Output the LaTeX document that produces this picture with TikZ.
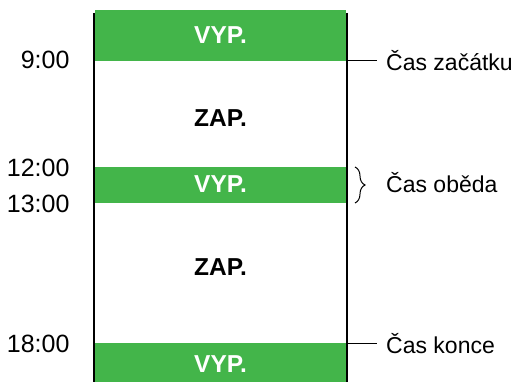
\documentclass[tikz,border=0pt]{standalone}
\usepackage{fontspec}
\setmainfont{Liberation Sans}
\usetikzlibrary{decorations.pathreplacing}
\definecolor{barGreen}{RGB}{67,181,74}
\begin{document}
\begin{tikzpicture}[x=1pt,y=-1pt,
        lbl/.style={font=\fontsize{25}{29}\selectfont},
        rlbl/.style={font=\fontsize{23}{27}\selectfont},
        offtext/.style={font=\fontsize{24.5}{28}\selectfont\bfseries,text=white},
        ontext/.style={font=\fontsize{24.5}{28}\selectfont\bfseries}]
        \useasboundingbox (0,0) rectangle (518,382);

        % green off bars
        \fill[barGreen] (95,10) rectangle (346,61);
        \fill[barGreen] (95,167) rectangle (346,203);
        \fill[barGreen] (95,343) rectangle (346,382);

        \node[offtext] (off1) at (220.5,35) {VYP.};
        \node[ontext] (on1) at (220.5,118) {ZAP.};
        \node[offtext] (off2) at (220.5,184) {VYP.};
        \node[ontext] (on2) at (220.5,267) {ZAP.};
        \node[offtext] (off3) at (220.5,364.5) {VYP.};

        % side lines
        \coordinate (LT) at (94,13);
        \coordinate (LB) at (94,382);
        \coordinate (RT) at (347,13);
        \coordinate (RB) at (347,382);
        \draw[line width=2pt] (LT) -- (LB);
        \draw[line width=2pt] (RT) -- (RB);

        % times
        \node[lbl,anchor=east] (h9) at (73,60) {9:00};
        \node[lbl,anchor=east] (h12) at (73,168) {12:00};
        \node[lbl,anchor=east] (h13) at (73,204) {13:00};
        \node[lbl,anchor=east] (h18) at (73,344) {18:00};

        % right labels
        \coordinate (S) at (347,61);
        \coordinate (SE) at (377,61);
        \coordinate (E) at (347,343);
        \coordinate (EE) at (377,343);
        \draw[line width=1pt] (S) -- (SE);
        \draw[line width=1pt] (E) -- (EE);
        \node[rlbl,anchor=base west,inner sep=0pt,yshift=-9.5pt] (start) at (386,61) {Čas začátku};
        \node[rlbl,anchor=base west,inner sep=0pt,yshift=-10pt] (end) at (386,343) {Čas konce};

        \coordinate (BT) at (355,167);
        \coordinate (BB) at (355,203);
        \draw[line width=1pt,decorate,decoration={brace,amplitude=10pt}]
            (BT) -- (BB);
        \node[rlbl,anchor=base west,inner sep=0pt,yshift=-7pt] (lunch) at (386,185) {Čas oběda};
    \end{tikzpicture}
\end{document}
